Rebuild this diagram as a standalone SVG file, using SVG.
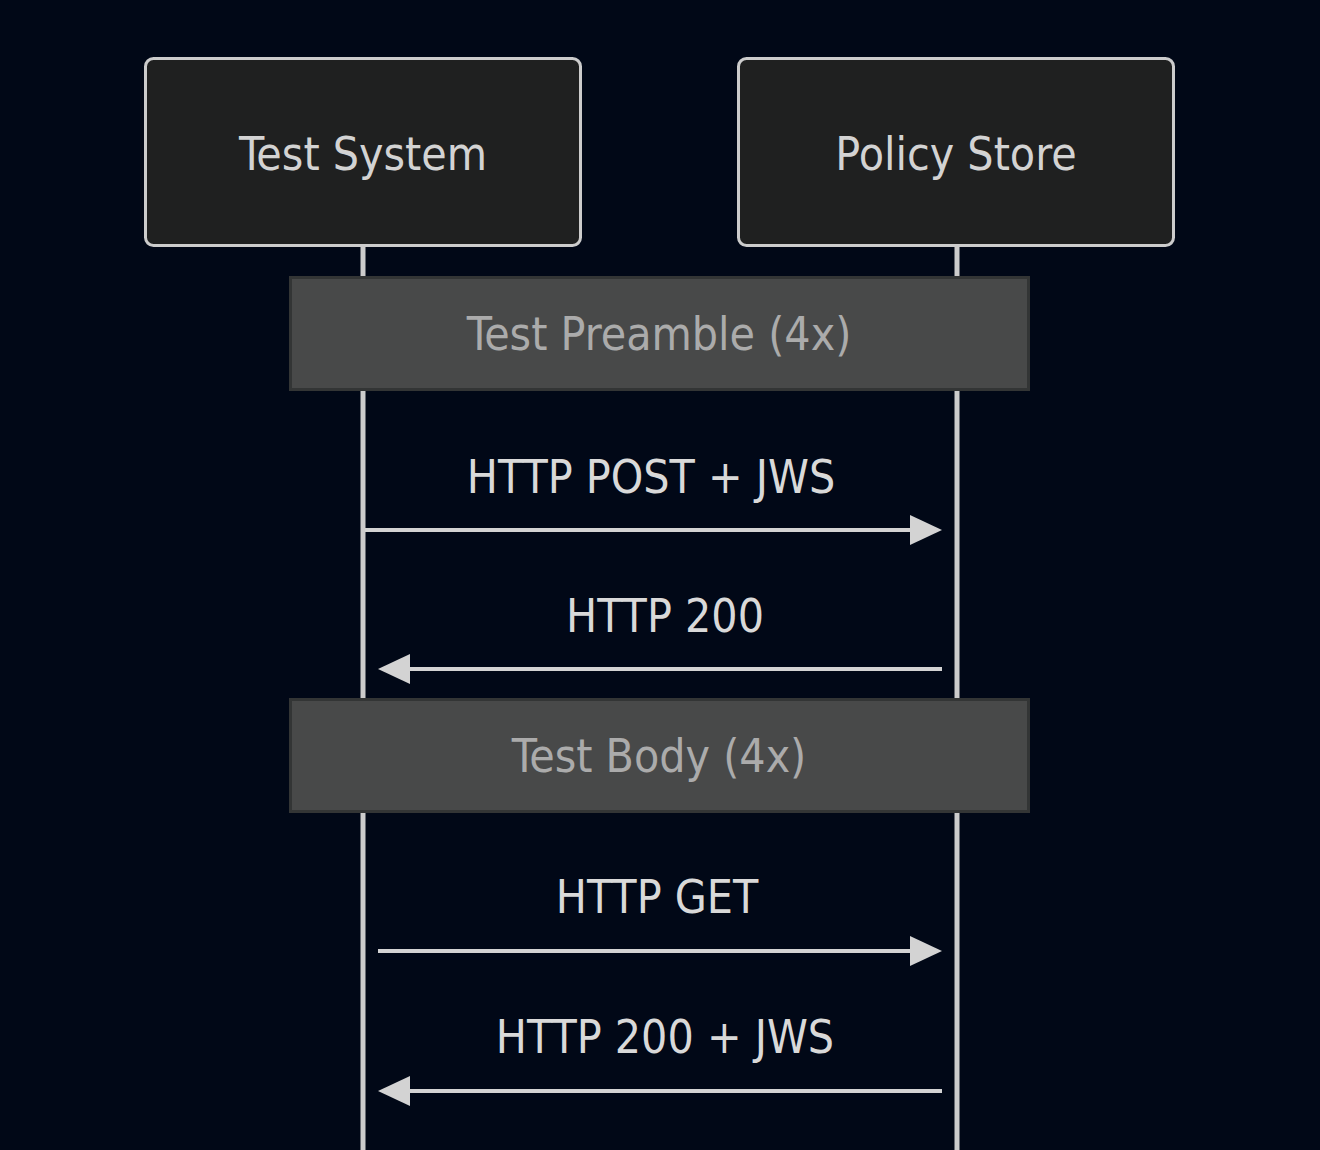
<svg xmlns="http://www.w3.org/2000/svg" width="1320" height="1150" viewBox="0 0 1320 1150">
<style>
  .bg { fill: #010817; }
  .actor rect { fill: #1f2020; stroke: #cccccc; stroke-width: 3; }
  .actor text { fill: #d3d3d3; font-family: "DejaVu Sans Condensed", "DejaVu Sans", sans-serif; font-stretch: condensed; font-size: 46px; text-anchor: middle; }
  .lifeline { stroke: #cccccc; stroke-width: 5; fill: none; }
  .note rect { fill: #484949; stroke: #333535; stroke-width: 3; }
  .note text { fill: #ababab; font-family: "DejaVu Sans Condensed", "DejaVu Sans", sans-serif; font-stretch: condensed; font-size: 46px; text-anchor: middle; }
  .msg line { stroke: #d3d3d3; stroke-width: 4; }
  .msg polygon { fill: #d3d3d3; }
  .msgtext { fill: #d9d9d9; font-family: "DejaVu Sans Condensed", "DejaVu Sans", sans-serif; font-stretch: condensed; font-size: 46px; text-anchor: middle; }
</style>
<rect class="bg" x="0" y="0" width="1320" height="1150"/>
<g id="lifelines">
  <line class="lifeline" x1="363" y1="247" x2="363" y2="1150"/>
  <line class="lifeline" x1="957" y1="247" x2="957" y2="1150"/>
</g>
<g id="actor-test-system" class="actor">
  <rect x="145.5" y="58.5" width="435" height="187" rx="8" ry="8"/>
  <text x="363" y="170">Test System</text>
</g>
<g id="actor-policy-store" class="actor">
  <rect x="738.5" y="58.5" width="435" height="187" rx="8" ry="8"/>
  <text x="956" y="170">Policy Store</text>
</g>
<g id="note-preamble" class="note">
  <rect x="290.5" y="277.5" width="738" height="112"/>
  <text x="659" y="350">Test Preamble (4x)</text>
</g>
<g id="note-body" class="note">
  <rect x="290.5" y="699.5" width="738" height="112"/>
  <text x="659" y="772">Test Body (4x)</text>
</g>
<g id="connectors">
  <g class="msg" id="msg1">
    <line x1="365" y1="530" x2="912" y2="530"/>
    <polygon points="910,515 942,530 910,545"/>
  </g>
  <g class="msg" id="msg2">
    <line x1="942" y1="669" x2="408" y2="669"/>
    <polygon points="410,654 378,669 410,684"/>
  </g>
  <g class="msg" id="msg3">
    <line x1="378" y1="951" x2="912" y2="951"/>
    <polygon points="910,936 942,951 910,966"/>
  </g>
  <g class="msg" id="msg4">
    <line x1="942" y1="1091" x2="408" y2="1091"/>
    <polygon points="410,1076 378,1091 410,1106"/>
  </g>
</g>
<g id="labels">
  <text class="msgtext" x="651" y="493">HTTP POST + JWS</text>
  <text class="msgtext" x="665" y="632">HTTP 200</text>
  <text class="msgtext" x="657" y="913">HTTP GET</text>
  <text class="msgtext" x="665" y="1053">HTTP 200 + JWS</text>
</g>
</svg>
